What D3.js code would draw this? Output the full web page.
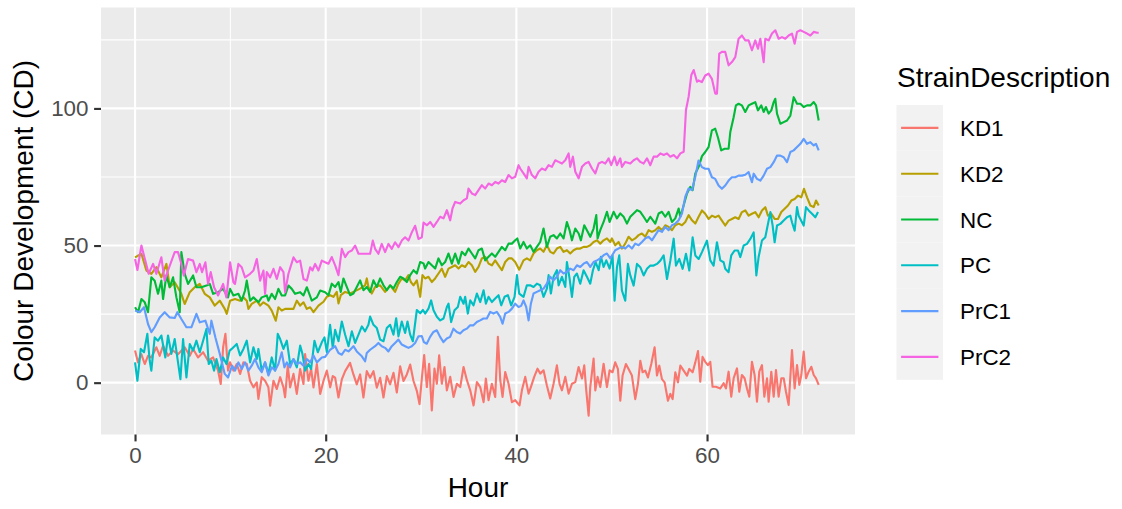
<!DOCTYPE html>
<html>
<head>
<meta charset="utf-8">
<script src="https://cdn.jsdelivr.net/npm/d3@7"></script>
<style>
  body { margin: 0; background: #ffffff; }
  text { font-family: "Liberation Sans", Arial, Helvetica, sans-serif; }
</style>
</head>
<body>
<svg id="chart" width="1122" height="509"></svg>
<script>
// Strain names and their hue palette
const strains = ["KD1", "KD2", "NC", "PC", "PrC1", "PrC2"];
const colours = ["#F8766D", "#B79F00", "#00BA38", "#00BFC4", "#619CFF", "#F564E3"];

// Colour development readings per strain: [hour, CD]
const kd1 = [[0,11.7],[0.31,7.4],[0.66,10.4],[1.02,6.8],[1.36,9.8],[1.71,9.2],[2.24,12.9],[2.59,9.8],[2.94,13.5],[3.46,9.8],[3.99,11.7],[4.51,10.4],[5.21,12.9],[5.74,9.8],[6.09,12.3],[6.61,9.2],[7.14,11.1],[7.66,8.0],[8.19,9.2],[8.71,4.4],[8.99,-0.5],[9.24,12.9],[9.48,17.8],[9.76,4.4],[9.97,7.4],[10.32,4.4],[10.67,6.8],[11.02,3.2],[11.37,7.4],[11.72,6.8],[12.07,0.7],[12.42,-1.7],[12.77,0.1],[12.94,-5.9],[13.29,2.0],[13.64,0.7],[13.99,-1.7],[14.17,-8.4],[14.52,0.7],[14.87,-2.3],[15.22,2.0],[15.57,-1.7],[15.74,-5.3],[16.02,6.2],[16.27,-1.7],[16.62,3.2],[16.97,-4.1],[17.32,5.0],[17.67,-0.5],[17.84,10.4],[18.19,0.7],[18.47,5.0],[18.72,-1.7],[19.07,6.8],[19.42,-4.1],[19.77,0.7],[20.12,4.4],[20.47,-1.7],[20.74,2.4],[20.99,1.8],[21.34,-5.4],[21.69,1.2],[22.04,4.2],[22.56,7.2],[22.91,3.0],[23.26,-0.6],[23.61,3.0],[23.96,-5.4],[24.31,4.2],[24.66,1.8],[25.01,4.2],[25.36,-1.8],[25.71,1.8],[26.06,-5.4],[26.41,2.4],[26.76,-0.6],[27.11,3.6],[27.46,-3.6],[27.81,6.0],[28.16,0.6],[28.51,3.0],[28.86,6.6],[29.21,0.6],[29.56,-3.0],[29.84,-7.8],[30.09,1.8],[30.33,10.1],[30.61,-1.6],[30.85,6.9],[31.13,-10.1],[31.41,5.1],[31.66,-0.4],[31.9,10.0],[32.18,-0.4],[32.46,5.7],[32.71,-2.8],[33.06,2.1],[33.41,-5.2],[33.76,-0.4],[34.11,-1.6],[34.46,5.7],[34.81,0.9],[35.16,-2.8],[35.51,-8.3],[35.86,0.2],[36.21,-1.6],[36.56,-7.1],[36.8,1.5],[37.08,-6.4],[37.43,-0.4],[37.78,-5.2],[38.06,16.7],[38.31,0.9],[38.55,-5.2],[38.83,3.9],[39.18,-0.4],[39.53,-7.1],[39.88,-6.4],[40.33,-8.3],[40.58,-2.8],[40.93,2.1],[41.28,-4.0],[41.52,-1.6],[41.87,2.1],[42.22,5.1],[42.5,3.3],[42.85,4.5],[43.2,-1.0],[43.55,-5.8],[43.9,-0.4],[44.25,6.3],[44.53,-0.4],[44.78,-2.8],[45.13,2.1],[45.48,-4.0],[45.83,-0.4],[46.18,0.2],[46.53,5.7],[46.88,1.5],[47.12,6.3],[47.33,-2.8],[47.58,-12.0],[47.75,-1.6],[48.1,8.8],[48.28,-2.8],[48.52,2.1],[48.8,-1.6],[49.15,6.9],[49.5,-1.6],[49.78,4.5],[50.09,3.8],[50.37,7.4],[50.65,5.0],[50.9,-6.6],[51.14,2.6],[51.49,6.8],[51.77,5.0],[52.12,2.6],[52.47,-6.0],[52.75,-0.5],[53.0,8.0],[53.24,3.8],[53.52,4.4],[53.8,1.9],[54.15,6.8],[54.5,12.9],[54.75,2.6],[54.99,6.2],[55.27,1.3],[55.55,0.1],[55.9,-6.6],[56.15,-4.1],[56.39,-6.0],[56.67,3.8],[56.95,0.1],[57.2,6.2],[57.55,4.4],[57.9,2.6],[58.14,5.0],[58.49,3.8],[58.77,7.4],[59.05,11.5],[59.29,0.4],[59.53,9.4],[59.81,7.6],[60.09,6.4],[60.34,7.6],[60.58,-1.5],[60.93,-1.5],[61.39,-2.1],[61.74,-0.2],[61.98,-2.1],[62.26,4.0],[62.54,-5.1],[62.79,1.6],[63.14,5.2],[63.38,-3.3],[63.66,2.8],[63.94,1.6],[64.19,-2.1],[64.43,-5.1],[64.71,7.6],[64.99,2.8],[65.24,-6.9],[65.48,4.0],[65.76,6.4],[66.01,-5.1],[66.29,1.6],[66.46,-6.9],[66.74,4.0],[66.99,-5.1],[67.23,4.6],[67.51,-5.1],[67.79,1.6],[68.04,1.6],[68.28,-3.3],[68.56,-8.1],[68.91,11.9],[69.19,-2.1],[69.44,6.4],[69.68,-0.8],[69.89,2.8],[70.14,11.3],[70.38,1.6],[70.66,4.0],[70.94,5.8],[71.19,2.8],[71.43,1.6],[71.71,-0.8]];

const kd2 = [[0,45.7],[0.67,47.0],[1.19,40.9],[1.71,39.7],[2.24,42.1],[2.76,38.4],[3.29,43.3],[3.64,34.8],[4.16,36.6],[4.86,32.4],[5.21,28.7],[5.74,33.0],[6.26,34.8],[6.79,36.0],[7.31,32.4],[7.84,31.1],[8.36,28.1],[8.89,29.9],[9.41,26.9],[9.62,25.1],[9.97,29.9],[10.49,30.5],[11.02,29.9],[11.37,31.1],[11.72,29.9],[11.89,26.9],[12.24,28.7],[12.77,29.9],[13.12,28.1],[13.47,29.3],[13.99,28.1],[14.34,26.3],[14.76,22.6],[15.04,27.5],[15.39,26.3],[15.74,26.9],[16.27,26.9],[16.62,26.9],[16.97,29.9],[17.32,28.1],[17.67,29.3],[18.02,26.9],[18.37,27.5],[18.72,25.7],[19.24,28.1],[19.77,29.5],[20.11,31.3],[20.46,31.9],[20.81,31.3],[21.16,33.1],[21.34,28.9],[21.58,31.9],[22.04,33.1],[22.56,32.5],[22.91,33.1],[23.61,34.3],[24.13,35.5],[24.31,38.0],[24.48,34.9],[24.83,32.5],[25.18,34.9],[25.71,35.5],[26.23,33.1],[26.76,35.5],[27.28,33.1],[27.63,36.1],[27.98,38.0],[28.33,37.3],[28.68,39.2],[28.93,36.7],[29.21,35.5],[29.56,37.3],[29.91,31.3],[30.15,39.2],[30.43,38.0],[30.78,38.6],[31.13,36.7],[31.48,38.0],[31.83,39.8],[32.18,41.6],[32.53,38.6],[32.88,41.6],[33.23,42.2],[33.58,42.8],[33.93,41.6],[34.28,42.8],[34.63,42.2],[34.98,44.0],[35.33,42.8],[35.68,40.4],[36.03,42.2],[36.38,45.3],[36.73,45.9],[37.08,43.4],[37.43,42.8],[37.78,44.6],[38.13,42.8],[38.48,41.0],[38.83,44.0],[39.18,45.3],[39.53,45.3],[39.88,44.0],[40.3,41.2],[40.75,44.6],[41.1,45.3],[41.45,44.6],[41.8,47.1],[42.15,48.3],[42.5,48.9],[42.85,47.7],[43.2,50.1],[43.55,47.7],[43.9,47.1],[44.25,48.9],[44.6,49.5],[44.95,47.7],[45.3,48.3],[45.65,47.1],[46.0,48.3],[46.35,48.9],[46.7,48.9],[47.05,49.5],[47.4,49.5],[47.75,50.1],[48.1,51.3],[48.45,51.9],[48.8,50.7],[49.15,51.9],[49.5,52.6],[49.85,51.3],[50.02,52.6],[50.37,50.1],[50.72,51.3],[51.07,48.9],[51.42,50.7],[51.77,53.2],[52.12,51.9],[52.47,52.6],[52.82,53.8],[53.17,54.4],[53.52,53.2],[53.87,55.6],[54.22,55.0],[54.57,55.6],[54.92,56.8],[55.27,55.6],[55.62,57.4],[55.97,56.8],[56.32,55.6],[56.67,57.4],[57.02,58.0],[57.37,57.4],[57.72,58.6],[58.07,61.1],[58.42,59.2],[58.77,58.0],[59.12,60.5],[59.47,62.8],[59.81,61.6],[60.16,59.7],[60.51,60.9],[60.86,60.3],[61.21,60.9],[61.56,59.1],[61.91,57.3],[62.26,59.1],[62.61,59.7],[62.96,60.3],[63.31,59.7],[63.66,62.2],[64.01,62.8],[64.36,60.9],[64.71,61.6],[65.06,62.2],[65.41,60.3],[65.76,62.8],[66.11,64.0],[66.39,60.9],[66.74,61.6],[67.09,59.7],[67.44,59.7],[67.79,62.2],[68.14,63.4],[68.49,64.6],[68.84,66.4],[69.19,67.0],[69.54,68.2],[69.89,67.6],[70.17,70.7],[70.49,67.6],[70.84,64.6],[71.19,64.0],[71.43,66.4],[71.71,64.6]];

const nc = [[0,27.5],[0.32,25.7],[0.67,30.5],[1.02,29.3],[1.36,25.7],[1.71,38.4],[2.06,37.2],[2.41,32.4],[2.76,37.2],[2.94,30.5],[3.29,39.1],[3.64,34.8],[3.99,38.4],[4.34,31.1],[4.69,25.7],[4.86,47.6],[5.21,39.7],[5.56,36.0],[6.09,39.1],[6.44,34.8],[6.96,34.8],[7.49,35.4],[7.84,36.0],[8.19,32.4],[8.71,33.0],[9.24,34.2],[9.76,31.1],[9.97,34.2],[10.32,31.8],[10.84,32.4],[11.19,29.9],[11.54,33.6],[11.72,37.2],[12.07,29.9],[12.42,31.1],[12.94,29.3],[13.29,31.1],[13.82,31.8],[13.99,29.9],[14.34,32.4],[14.69,30.5],[15.04,34.2],[15.39,31.8],[15.74,31.8],[16.09,35.4],[16.44,34.2],[16.79,32.4],[17.32,33.0],[17.67,31.8],[18.02,34.8],[18.54,29.9],[19.07,31.1],[19.42,33.6],[19.94,33.0],[20.29,31.9],[20.64,36.1],[20.99,34.9],[21.34,36.7],[21.58,33.1],[21.86,38.0],[22.21,34.9],[22.56,31.9],[22.91,32.5],[23.26,34.9],[23.61,37.3],[23.96,33.7],[24.31,34.9],[24.66,33.1],[25.01,37.3],[25.36,34.9],[25.71,38.0],[26.06,35.5],[26.41,33.7],[26.76,35.5],[27.11,34.3],[27.46,36.7],[27.81,38.6],[28.16,38.0],[28.51,36.7],[28.86,39.2],[29.21,41.0],[29.56,39.8],[29.91,44.0],[30.26,43.5],[30.43,41.6],[30.78,44.0],[31.13,42.8],[31.48,41.6],[31.83,45.3],[32.18,42.8],[32.53,44.0],[32.88,47.1],[33.23,43.4],[33.58,47.1],[33.93,43.4],[34.28,47.7],[34.63,46.5],[34.98,48.9],[35.33,47.1],[35.68,45.3],[36.03,48.3],[36.38,48.9],[36.73,44.6],[37.08,45.9],[37.43,47.1],[37.78,45.9],[38.13,47.7],[38.48,49.5],[38.83,48.3],[39.18,50.7],[39.53,50.7],[39.88,51.9],[40.1,52.6],[40.4,48.9],[40.75,51.3],[41.1,48.9],[41.45,50.1],[41.8,47.7],[42.15,49.5],[42.5,51.3],[42.85,56.2],[43.2,49.5],[43.55,53.2],[43.9,53.8],[44.25,52.6],[44.6,54.4],[44.95,52.6],[45.3,58.6],[45.58,55.6],[45.83,51.9],[46.18,56.2],[46.53,54.4],[46.77,51.9],[47.12,57.4],[47.4,55.6],[47.75,53.2],[48.1,56.2],[48.38,61.1],[48.52,52.6],[48.8,55.6],[49.15,58.6],[49.5,62.3],[49.78,58.6],[50.2,62.3],[50.55,59.9],[50.9,61.7],[51.25,60.5],[51.6,58.0],[51.95,60.5],[52.3,61.7],[52.65,62.9],[53.0,62.3],[53.35,60.5],[53.7,58.6],[54.05,60.5],[54.57,58.0],[54.92,61.7],[55.27,62.3],[55.62,60.5],[55.97,62.3],[56.32,58.6],[56.67,59.9],[57.02,63.5],[57.2,60.5],[57.55,64.7],[57.9,69.0],[58.25,71.4],[58.49,70.2],[58.77,76.3],[59.12,78.7],[59.47,82.6],[59.81,84.1],[60.16,85.9],[60.51,92.0],[60.86,92.6],[61.14,89.5],[61.49,84.7],[61.84,85.3],[62.26,85.3],[62.44,91.4],[62.79,96.8],[63.03,101.1],[63.31,101.7],[63.66,101.1],[64.01,98.7],[64.36,101.1],[64.71,101.7],[65.06,102.3],[65.34,99.3],[65.69,101.1],[65.94,98.7],[66.18,100.5],[66.46,98.1],[66.74,99.3],[66.99,102.3],[67.16,103.5],[67.34,98.1],[67.69,94.4],[68.04,95.0],[68.39,95.6],[68.74,97.4],[69.09,104.1],[69.44,101.7],[69.79,101.7],[70.14,100.5],[70.49,101.1],[70.84,101.1],[71.19,102.3],[71.43,101.1],[71.71,95.6]];

const pc = [[0,7.4],[0.25,0.7],[0.6,12.3],[0.94,11.1],[1.29,17.8],[1.54,8.0],[1.71,4.4],[2.06,16.5],[2.41,15.3],[2.76,17.2],[3.18,9.2],[3.46,17.2],[3.81,10.5],[4.16,15.9],[4.51,7.4],[4.76,1.3],[5.04,15.9],[5.39,1.9],[5.74,14.1],[6.09,11.7],[6.44,15.3],[6.79,11.1],[7.14,15.3],[7.49,19.6],[7.73,6.8],[8.01,8.0],[8.29,4.4],[8.54,8.6],[8.89,3.8],[9.24,9.2],[9.59,6.8],[9.93,11.7],[10.14,12.3],[10.67,14.1],[11.02,9.9],[11.37,12.3],[11.72,15.3],[12.07,7.4],[12.42,12.9],[12.77,8.6],[12.94,12.3],[13.29,4.4],[13.64,7.4],[13.99,3.2],[14.34,9.2],[14.69,4.4],[14.97,17.8],[15.22,15.9],[15.57,12.3],[15.92,15.3],[16.27,6.8],[16.62,8.6],[16.97,5.6],[17.32,13.5],[17.56,10.5],[17.84,4.4],[18.19,6.8],[18.47,5.0],[18.82,15.3],[19.17,11.1],[19.59,14.7],[19.87,16.5],[20.12,11.1],[20.46,21.1],[20.74,12.7],[20.99,19.3],[21.34,15.1],[21.69,22.3],[22.04,17.5],[22.39,13.3],[22.74,18.7],[23.09,14.5],[23.44,17.5],[23.79,20.5],[24.13,18.7],[24.48,21.1],[24.66,24.1],[25.01,21.1],[25.36,19.9],[25.71,15.7],[26.06,15.1],[26.41,19.9],[26.76,21.1],[27.11,17.5],[27.39,23.5],[27.63,16.9],[27.98,22.3],[28.33,18.1],[28.58,22.3],[28.86,17.5],[29.14,15.1],[29.56,26.5],[29.91,25.3],[30.2,26.5],[30.43,25.2],[30.78,27.0],[31.06,30.0],[31.31,26.4],[31.66,24.0],[32.01,22.7],[32.36,23.4],[32.71,27.6],[32.88,28.8],[33.16,22.1],[33.51,26.4],[33.86,27.6],[34.11,31.3],[34.46,28.8],[34.63,31.3],[34.91,25.2],[35.16,30.0],[35.51,28.2],[35.86,32.5],[36.21,29.4],[36.56,33.7],[36.8,28.8],[37.08,31.3],[37.43,29.4],[37.78,30.7],[38.13,31.9],[38.41,28.2],[38.76,31.3],[39.11,31.9],[39.46,28.2],[39.81,31.3],[40.06,39.2],[40.3,32.5],[40.75,31.3],[41.1,35.5],[41.45,35.5],[41.8,34.9],[42.15,36.1],[42.5,35.5],[42.85,31.3],[43.2,34.3],[43.38,39.2],[43.62,32.5],[43.9,38.6],[44.25,41.0],[44.43,35.5],[44.78,38.6],[45.13,34.9],[45.3,44.0],[45.58,38.0],[45.83,31.3],[46.07,38.6],[46.35,39.8],[46.7,36.1],[47.05,41.0],[47.4,38.6],[47.75,36.1],[48.03,41.0],[48.31,44.0],[48.63,41.0],[48.87,45.9],[49.15,42.2],[49.43,44.6],[49.78,41.6],[50.09,46.4],[50.3,29.9],[50.55,42.1],[50.79,46.4],[51.07,33.6],[51.42,29.9],[51.7,43.3],[51.95,39.1],[52.3,35.4],[52.65,43.3],[53.0,42.1],[53.35,39.1],[53.7,41.5],[54.05,42.7],[54.4,42.7],[54.75,43.3],[55.1,44.5],[55.45,46.4],[55.8,37.8],[56.15,44.5],[56.5,52.5],[56.74,42.7],[57.09,45.1],[57.44,41.5],[57.79,47.0],[58.14,40.9],[58.49,53.0],[58.77,46.4],[59.12,45.1],[59.47,47.6],[59.99,51.8],[60.34,44.6],[60.69,42.7],[61.04,51.2],[61.39,44.6],[61.74,43.9],[61.91,41.5],[62.26,40.3],[62.54,46.4],[62.89,48.2],[63.24,48.2],[63.49,45.8],[63.84,50.0],[64.19,50.6],[64.54,52.4],[64.89,54.8],[65.17,39.1],[65.41,45.8],[65.76,51.8],[66.11,53.0],[66.29,56.1],[66.64,62.2],[66.88,57.3],[67.09,51.2],[67.34,57.3],[67.69,57.9],[68.04,59.1],[68.39,60.3],[68.74,60.9],[68.91,58.5],[69.19,55.4],[69.44,64.0],[69.61,60.9],[69.96,58.5],[70.14,57.3],[70.38,64.0],[70.66,62.8],[71.01,61.6],[71.36,60.3],[71.64,62.2]];

const prc1 = [[0,26.3],[0.49,25.7],[0.94,27.5],[1.36,21.4],[1.71,18.4],[2.06,20.2],[2.59,23.8],[3.11,25.7],[3.64,23.8],[4.16,23.6],[4.44,25.7],[4.86,23.2],[5.39,20.2],[5.91,20.2],[6.44,25.1],[6.79,22.0],[7.38,22.6],[7.84,17.8],[8.01,22.6],[8.43,16.5],[8.89,10.5],[9.41,3.2],[9.76,1.9],[10.18,6.2],[10.49,4.4],[10.84,7.4],[11.19,5.0],[11.54,7.4],[11.89,4.4],[12.24,6.2],[12.59,8.6],[12.94,5.6],[13.29,3.8],[13.64,7.4],[13.99,2.6],[14.34,5.6],[14.69,4.4],[15.04,6.8],[15.39,11.1],[15.67,5.6],[15.92,7.4],[16.27,5.6],[16.62,8.6],[16.97,6.8],[17.32,7.4],[17.67,6.2],[18.02,8.6],[18.37,7.4],[18.72,9.9],[19.07,7.4],[19.59,9.2],[19.94,9.4],[20.46,12.0],[20.99,13.3],[21.34,10.8],[21.69,10.2],[22.04,12.0],[22.39,11.4],[22.91,13.3],[23.26,11.4],[23.79,9.6],[24.13,7.8],[24.31,10.8],[24.66,12.0],[25.18,13.3],[25.53,14.5],[25.88,13.3],[26.23,12.7],[26.58,11.4],[26.93,13.3],[27.28,14.5],[27.63,15.7],[27.98,13.9],[28.33,13.3],[28.68,12.7],[29.03,13.3],[29.38,14.5],[29.73,16.9],[30.08,17.0],[30.3,14.8],[30.6,14.2],[30.95,16.7],[31.3,18.5],[31.65,19.1],[32.0,16.7],[32.35,14.8],[32.7,16.1],[33.05,16.7],[33.4,19.7],[33.75,18.5],[34.1,17.9],[34.45,19.1],[34.8,19.7],[35.15,20.9],[35.5,20.9],[35.85,22.1],[36.2,22.7],[36.55,23.4],[36.9,23.4],[37.25,25.8],[37.6,25.2],[37.95,25.8],[38.3,24.0],[38.55,21.5],[38.83,25.2],[39.18,25.8],[39.53,27.0],[39.88,28.8],[40.23,27.6],[40.5,28.0],[40.75,30.0],[41.03,27.6],[41.28,22.7],[41.52,28.8],[41.8,32.5],[42.15,33.1],[42.5,33.7],[42.85,34.3],[43.2,36.1],[43.55,38.6],[43.9,37.3],[44.25,38.6],[44.6,41.0],[44.95,39.8],[45.3,40.4],[45.65,41.6],[46.0,41.0],[46.35,42.8],[46.7,42.2],[47.05,43.4],[47.4,44.0],[47.75,42.2],[48.1,44.0],[48.45,44.6],[48.8,45.3],[49.15,46.5],[49.5,47.1],[49.85,45.3],[50.37,48.3],[50.72,48.9],[51.07,49.5],[51.42,48.9],[51.77,50.1],[52.12,48.9],[52.47,50.7],[52.82,50.1],[53.17,51.3],[53.52,52.6],[53.87,53.2],[54.22,51.9],[54.57,53.8],[54.92,55.6],[55.27,55.0],[55.62,56.8],[55.97,55.6],[56.32,57.4],[56.67,58.0],[57.02,59.2],[57.37,61.7],[57.72,67.8],[58.07,70.8],[58.42,70.2],[58.77,75.1],[59.11,81.0],[59.46,78.6],[59.81,78.0],[60.16,78.0],[60.51,74.9],[60.86,74.3],[61.21,71.9],[61.56,70.7],[61.91,71.9],[62.26,73.7],[62.61,74.9],[62.96,74.9],[63.31,75.5],[63.66,75.5],[64.01,75.8],[64.36,76.8],[64.71,73.1],[64.89,76.2],[65.24,74.3],[65.59,73.7],[65.94,75.5],[66.29,78.0],[66.64,78.6],[66.99,80.4],[67.34,82.8],[67.69,82.8],[68.04,82.2],[68.39,80.4],[68.74,84.1],[69.09,84.7],[69.44,85.9],[69.79,87.1],[70.14,88.9],[70.49,87.1],[70.84,87.7],[71.19,86.5],[71.43,87.1],[71.71,84.7]];

const prc2 = [[0,45.1],[0.25,41.1],[0.67,50.0],[1.43,39.7],[1.89,43.3],[2.24,39.7],[2.76,45.7],[3.11,37.2],[3.46,40.9],[4.16,47.6],[4.51,47.6],[4.86,43.3],[5.11,39.1],[5.56,45.1],[6.09,44.5],[6.44,40.3],[6.79,43.3],[7.03,40.3],[7.38,43.9],[7.66,36.0],[7.94,40.3],[8.29,34.8],[8.71,31.8],[9.24,36.0],[9.58,31.1],[9.97,43.9],[10.32,36.6],[10.49,36.0],[10.84,43.3],[11.19,42.1],[11.54,38.4],[12.07,39.7],[12.42,40.9],[12.77,45.1],[13.12,37.2],[13.47,40.9],[13.64,32.4],[13.82,40.3],[14.17,38.4],[14.52,41.5],[14.87,37.8],[15.22,42.1],[15.57,40.3],[15.74,33.0],[16.09,39.7],[16.62,45.7],[16.97,43.9],[17.32,44.5],[17.67,37.8],[18.02,37.2],[18.37,42.1],[18.61,40.9],[18.89,43.3],[19.24,40.9],[19.59,44.5],[19.94,43.9],[20.29,43.4],[20.64,45.8],[20.99,42.8],[21.34,39.2],[21.69,48.8],[22.04,45.8],[22.39,47.6],[22.74,48.2],[23.09,50.0],[23.44,47.0],[23.96,47.0],[24.66,47.0],[24.94,51.8],[25.18,48.8],[25.53,47.0],[25.88,50.6],[26.23,47.6],[26.58,50.6],[26.93,48.8],[27.28,51.2],[27.63,49.4],[27.98,51.8],[28.33,53.0],[28.68,51.8],[29.03,54.8],[29.38,57.2],[29.73,52.4],[30.08,53.0],[30.26,58.4],[30.61,57.4],[30.96,58.6],[31.31,56.8],[31.66,58.6],[32.01,60.5],[32.36,59.9],[32.71,62.9],[33.06,59.2],[33.3,63.5],[33.58,65.9],[34.11,65.3],[34.46,66.5],[34.81,67.2],[34.98,70.8],[35.33,69.0],[35.68,68.4],[36.03,70.2],[36.38,72.0],[36.73,70.8],[37.08,72.6],[37.43,72.0],[37.78,73.2],[38.13,72.6],[38.48,73.8],[38.83,73.2],[39.18,75.7],[39.53,74.5],[39.88,75.1],[40.23,79.3],[40.4,78.1],[40.75,76.3],[41.1,74.5],[41.28,78.7],[41.63,75.7],[41.98,74.5],[42.33,76.9],[42.68,78.1],[43.03,77.5],[43.38,79.3],[43.73,78.7],[44.08,81.1],[44.43,80.5],[44.78,79.9],[45.13,81.1],[45.48,83.6],[45.65,78.7],[45.93,82.4],[46.18,76.9],[46.53,74.5],[46.88,78.7],[47.23,79.9],[47.58,80.5],[47.93,78.1],[48.28,76.3],[48.63,79.9],[48.98,80.5],[49.33,79.9],[49.68,81.8],[49.95,79.3],[50.3,82.4],[50.55,79.3],[50.9,81.8],[51.07,78.7],[51.42,80.5],[51.95,79.9],[52.3,81.1],[52.65,81.8],[53.0,80.5],[53.35,79.9],[53.7,81.8],[54.05,79.3],[54.4,82.4],[54.75,82.4],[55.1,83.6],[55.45,83.0],[55.8,83.6],[56.15,82.4],[56.5,83.0],[56.85,81.8],[57.2,83.6],[57.55,84.2],[57.79,99.4],[58.07,104.3],[58.35,112.2],[58.6,114.0],[58.95,109.7],[59.11,110.2],[59.46,109.6],[59.81,112.0],[60.16,112.7],[60.51,110.8],[60.86,105.4],[61.04,105.4],[61.28,120.0],[61.56,120.6],[61.91,120.6],[62.26,115.7],[62.61,116.9],[62.96,118.7],[63.31,125.4],[63.66,126.6],[64.01,124.8],[64.36,124.8],[64.71,121.2],[65.06,124.8],[65.34,121.8],[65.59,125.4],[65.94,116.9],[66.11,125.4],[66.46,124.8],[66.81,127.3],[67.16,128.5],[67.51,125.4],[67.86,126.0],[68.21,125.4],[68.56,126.6],[68.91,127.3],[69.19,123.6],[69.44,127.9],[69.79,128.5],[70.14,127.9],[70.49,127.3],[70.84,126.6],[71.19,127.9],[71.54,127.6],[71.71,127.6]];

// Axis breaks
const xTicks = [0, 20, 40, 60];
const xMinor = [10, 30, 50, 70];
const yTicks = [0, 50, 100];
const yMinor = [25, 75, 125];

const seriesValues = [kd1, kd2, nc, pc, prc1, prc2];
const series = strains.map((name, i) => ({ name, colour: colours[i], values: seriesValues[i] }));

// Layout
const panel = { left: 101, right: 855, top: 7.5, bottom: 434.5 };
const lineW = 2.13;

const svg = d3.select("#chart");
svg.append("rect").attr("width", 1122).attr("height", 509).attr("fill", "#ffffff");

const x = d3.scaleLinear().domain([-3.57, 75.52]).range([panel.left, panel.right]);
const y = d3.scaleLinear().domain([-18.9, 136.8]).range([panel.bottom, panel.top]);

// Panel background
svg.append("rect")
  .attr("x", panel.left).attr("y", panel.top)
  .attr("width", panel.right - panel.left).attr("height", panel.bottom - panel.top)
  .attr("fill", "#EBEBEB");

const grid = svg.append("g");
// minor grid
grid.selectAll(".xminor").data(xMinor).join("line")
  .attr("x1", d => x(d)).attr("x2", d => x(d))
  .attr("y1", panel.top).attr("y2", panel.bottom)
  .attr("stroke", "#ffffff").attr("stroke-width", lineW / 2);
grid.selectAll(".yminor").data(yMinor).join("line")
  .attr("x1", panel.left).attr("x2", panel.right)
  .attr("y1", d => y(d)).attr("y2", d => y(d))
  .attr("stroke", "#ffffff").attr("stroke-width", lineW / 2);
// major grid
grid.selectAll(".xmajor").data(xTicks).join("line")
  .attr("x1", d => x(d)).attr("x2", d => x(d))
  .attr("y1", panel.top).attr("y2", panel.bottom)
  .attr("stroke", "#ffffff").attr("stroke-width", lineW);
grid.selectAll(".ymajor").data(yTicks).join("line")
  .attr("x1", panel.left).attr("x2", panel.right)
  .attr("y1", d => y(d)).attr("y2", d => y(d))
  .attr("stroke", "#ffffff").attr("stroke-width", lineW);

// Strain lines
const line = d3.line().x(d => x(d[0])).y(d => y(d[1]));
svg.append("g").selectAll("path").data(series).join("path")
  .attr("d", d => line(d.values))
  .attr("fill", "none")
  .attr("stroke", d => d.colour)
  .attr("stroke-width", lineW)
  .attr("stroke-linejoin", "round");

// Axes
const tickLen = 6.9;
const xAxis = svg.append("g")
  .attr("transform", `translate(0,${panel.bottom})`)
  .call(d3.axisBottom(x).tickValues(xTicks).tickSize(tickLen).tickPadding(5.6).tickSizeOuter(0));
const yAxis = svg.append("g")
  .attr("transform", `translate(${panel.left},0)`)
  .call(d3.axisLeft(y).tickValues(yTicks).tickSize(tickLen).tickPadding(5.6).tickSizeOuter(0));

[xAxis, yAxis].forEach(ax => {
  ax.select(".domain").remove();
  ax.selectAll(".tick line").attr("stroke", "#333333").attr("stroke-width", lineW);
  ax.selectAll(".tick text")
    .attr("fill", "#4D4D4D")
    .style("font-size", "22.4px")
    .style("font-family", "'Liberation Sans', Arial, sans-serif");
});

// Axis titles
svg.append("text")
  .attr("x", (panel.left + panel.right) / 2).attr("y", 497)
  .attr("text-anchor", "middle")
  .attr("fill", "#000000")
  .style("font-size", "28px")
  .text("Hour");

svg.append("text")
  .attr("transform", `translate(33,${(panel.top + panel.bottom) / 2}) rotate(-90)`)
  .attr("text-anchor", "middle")
  .attr("fill", "#000000")
  .style("font-size", "28px")
  .text("Colour Development (CD)");

// Legend
const legend = svg.append("g");
legend.append("text")
  .attr("x", 897).attr("y", 87)
  .attr("fill", "#000000")
  .style("font-size", "28px")
  .text("StrainDescription");

const keyTop = 105, keyH = 45.8, keyX = 896.5, keyW = 46.5;
const rows = legend.selectAll(".key").data(series).join("g")
  .attr("transform", (d, i) => `translate(0,${keyTop + i * keyH})`);
rows.append("rect")
  .attr("x", keyX).attr("y", 0)
  .attr("width", keyW).attr("height", keyH)
  .attr("fill", "#F2F2F2");
rows.append("line")
  .attr("x1", keyX + 4.6).attr("x2", keyX + keyW - 4.6)
  .attr("y1", keyH / 2).attr("y2", keyH / 2)
  .attr("stroke", d => d.colour)
  .attr("stroke-width", lineW);
rows.append("text")
  .attr("x", 960).attr("y", keyH / 2)
  .attr("dy", "0.36em")
  .attr("fill", "#000000")
  .style("font-size", "22.4px")
  .text(d => d.name);
</script>
</body>
</html>
